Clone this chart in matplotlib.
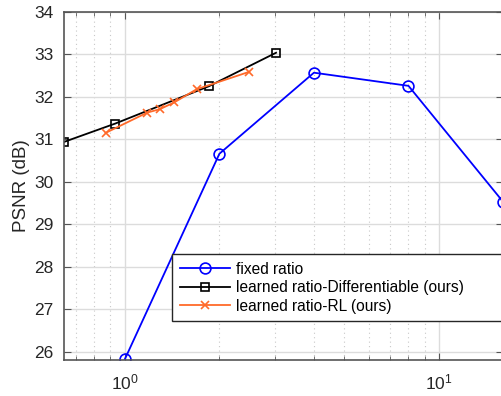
import matplotlib
matplotlib.use("Agg")
import matplotlib.pyplot as plt
from matplotlib.ticker import LogLocator, NullFormatter

plt.rcParams['font.family'] = ['Liberation Sans', 'DejaVu Sans']

# compression ratio vs. PSNR
fixed_ratio = [1, 2, 4, 8, 16]
fixed_psnr = [25.82, 30.66, 32.57, 32.26, 29.53]

diff_ratio = [0.641, 0.931, 1.851, 3.03]
diff_psnr = [30.94, 31.37, 32.25, 33.04]

rl_ratio = [0.868, 1.178, 1.292, 1.436, 1.692, 2.488]
rl_psnr = [31.15, 31.63, 31.71, 31.87, 32.18, 32.59]

labels = ["fixed ratio",
          "learned ratio-Differentiable (ours)",
          "learned ratio-RL (ours)"]

fig = plt.figure(figsize=(5.01, 3.96), dpi=100)
ax = fig.add_axes([64 / 501, 1 - 360 / 396, 439 / 501, 348 / 396])

ax.plot(fixed_ratio, fixed_psnr, color='#0000ff', lw=1.3, marker='o',
        ms=7.8, mfc='none', mew=1.2, label=labels[0])
ax.plot(diff_ratio, diff_psnr, color='black', lw=1.3, marker='s',
        ms=6, mfc='none', mew=1.2, label=labels[1])
ax.plot(rl_ratio, rl_psnr, color='#ff6a2a', lw=1.3, marker='x',
        ms=6, mew=1.2, label=labels[2])

ax.set_xscale('log')
ax.set_xlim(0.64, 16)
ax.set_ylim(25.8, 34)
ax.set_yticks(range(26, 35))
ax.xaxis.set_major_locator(LogLocator(base=10))
ax.xaxis.set_minor_locator(LogLocator(base=10, subs=range(2, 10)))
ax.xaxis.set_minor_formatter(NullFormatter())

ax.grid(True, which='major', color='#dcdcdc', lw=1.0, ls='-')
ax.grid(True, which='minor', axis='x', color='#c8c8c8', lw=0.8, ls=(0, (1, 3)))
ax.set_axisbelow(True)

for s in ax.spines.values():
    s.set_color('#555555')
    s.set_linewidth(1.2)
ax.tick_params(which='both', direction='in', top=True, right=True,
               color='#555555', labelsize=12.5, labelcolor='#262626')
ax.tick_params(which='major', length=5)
ax.tick_params(which='minor', length=3)
ax.tick_params(axis='y', pad=7.5)
ax.tick_params(axis='x', pad=9)

ax.set_ylabel("PSNR (dB)", fontsize=13.5, color='#262626', labelpad=3)

leg = ax.legend(loc='upper left',
                bbox_to_anchor=(172 / 501, 1 - 254 / 396, 360 / 501, 0),
                bbox_transform=fig.transFigure, mode='expand',
                fontsize=11.2, handlelength=3.2,
                fancybox=False, framealpha=1, edgecolor='#262626',
                borderaxespad=0, labelspacing=0.22, handletextpad=0.4,
                borderpad=0.5)
leg.get_frame().set_linewidth(1.0)

fig.savefig("out.png", dpi=100)
